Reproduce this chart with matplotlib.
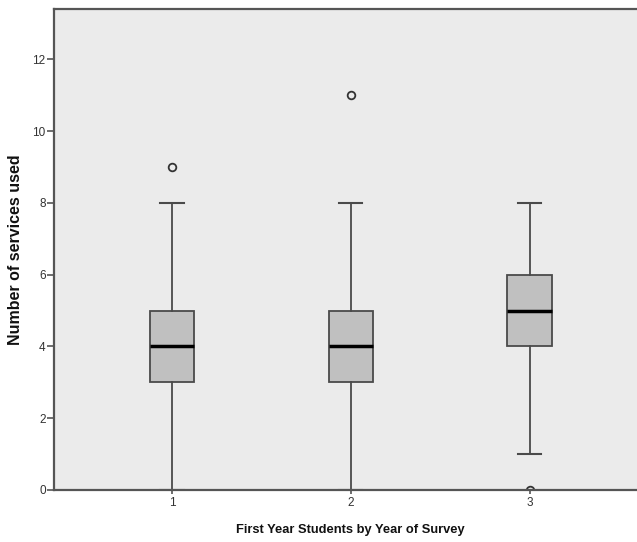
import matplotlib
matplotlib.use("Agg")
import matplotlib.pyplot as plt

plt.rcParams['font.family'] = ['Liberation Sans', 'DejaVu Sans']

# box summaries, one entry per survey year
years = ['1', '2', '3']
whislo = [0, 0, 1]
q1 = [3, 3, 4]
med = [4, 4, 5]
q3 = [5, 5, 6]
whishi = [8, 8, 8]
fliers = [[9], [11], [0]]

stats = []
for i in range(len(years)):
    stats.append(dict(label=years[i], whislo=whislo[i], q1=q1[i], med=med[i],
                      q3=q3[i], whishi=whishi[i], fliers=fliers[i]))

fig = plt.figure(figsize=(6.37, 5.42), dpi=100)
ax = fig.add_axes([54 / 637, 52 / 542, 1 - 54 / 637, (490 - 9) / 542])
ax.set_facecolor('#ebebeb')

edge = '#4a4a4a'
ax.bxp(stats, positions=[1, 2, 3], widths=0.25, patch_artist=True,
       boxprops=dict(facecolor='#c0c0c0', edgecolor=edge, linewidth=1.3),
       medianprops=dict(color='black', linewidth=2.5),
       whiskerprops=dict(color=edge, linewidth=1.3),
       capprops=dict(color=edge, linewidth=1.5),
       capwidths=0.13,
       flierprops=dict(marker='o', markersize=5.5, markerfacecolor='none',
                       markeredgecolor='#333333', markeredgewidth=1.3))

ax.set_xlim(0.34, 3.6)
ax.set_ylim(0, 13.4)
ax.set_yticks([0, 2, 4, 6, 8, 10, 12])
ax.set_xticks([1, 2, 3])
ax.set_xticklabels(years)

for s in ['left', 'bottom', 'top']:
    ax.spines[s].set_color('#555555')
    ax.spines[s].set_linewidth(1.6)
ax.spines['right'].set_visible(False)
ax.tick_params(axis='y', direction='out', length=5, width=1.2, colors='#555555',
               labelcolor='#333333', labelsize=8.5, pad=1)
ax.tick_params(axis='x', direction='out', length=3, width=1.2, colors='#555555',
               labelcolor='#333333', labelsize=8.5, pad=2)

ax.set_xlabel('First Year Students by Year of Survey', fontsize=9.3,
              fontweight='bold', color='#111111')
ax.set_ylabel('Number of services used', fontsize=11.5, fontweight='bold',
              color='#111111')
ax.xaxis.set_label_coords((350 - 54) / 583, -(530 - 490) / 481)
ax.yaxis.set_label_coords((16 - 54) / 583, 0.5)
ax.xaxis.label.set_va('center')
ax.yaxis.label.set_va('center')

fig.savefig('out.png', dpi=100)
